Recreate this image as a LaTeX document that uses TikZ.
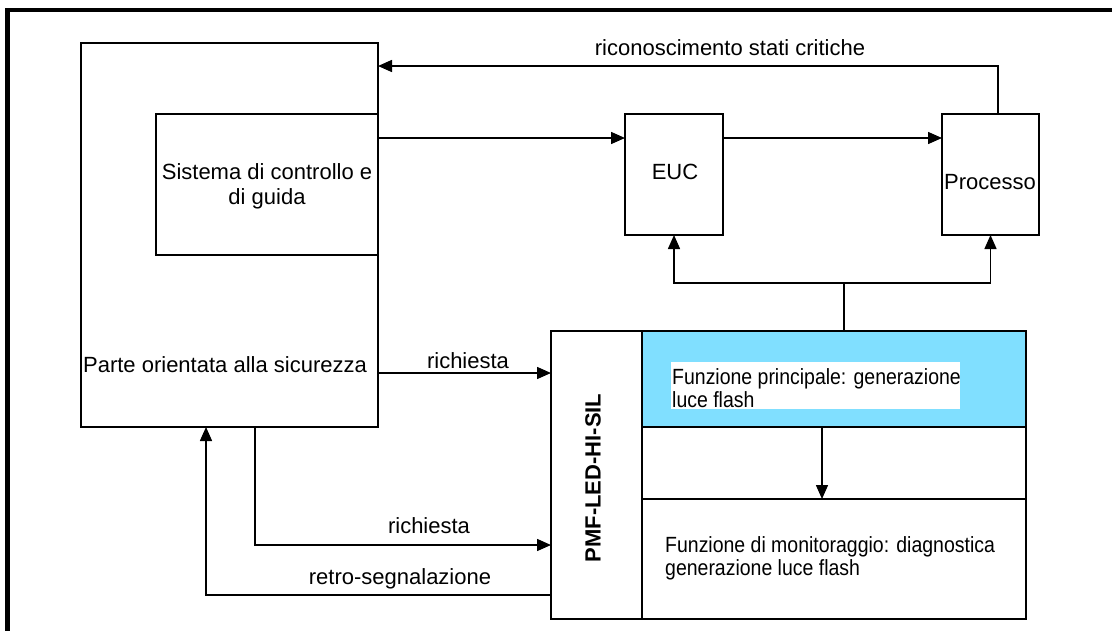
\documentclass[tikz,border=0pt]{standalone}
\usepackage{fontspec}
\setmainfont{Liberation Sans}
\newfontfamily\narrowsans{Liberation Sans}[FakeStretch=0.885]
\usetikzlibrary{arrows.meta}
\definecolor{funcblue}{RGB}{128,223,255}
\begin{document}
\begin{tikzpicture}[x=1pt,y=-1pt,
  box/.style={draw=black, line width=2pt, inner sep=0pt, outer sep=0pt, anchor=north west},
  lbl/.style={inner sep=0pt, anchor=base, font=\fontsize{22}{26}\selectfont},
  lbll/.style={inner sep=0pt, anchor=base west, font=\fontsize{22}{26}\narrowsans},
  conn/.style={line width=1.5pt, -{Triangle[length=14pt,width=12pt]}},
  plain/.style={line width=1.5pt},
]
\useasboundingbox (0,0) rectangle (1112,630);
\fill[white] (0,0) rectangle (1112,630);
% outer frame (only top and left visible)
\draw[line width=4.5pt] (7.5,640) -- (7.5,10) -- (1120,10);

% boxes
\node[box, minimum width=297pt, minimum height=384pt] (safety) at (81,43) {};
\node[box, minimum width=222pt, minimum height=141pt] (ctrl) at (156,114) {};
\node[box, minimum width=98pt, minimum height=121pt] (euc) at (625,114) {};
\node[box, minimum width=97pt, minimum height=121pt] (proc) at (942,114) {};
\node[box, minimum width=475pt, minimum height=288pt] (pmf) at (551,331) {};
\node[box, minimum width=91pt, minimum height=288pt] (pmflab) at (551,331) {};
\node[box, fill=funcblue, minimum width=384pt, minimum height=96pt] (main) at (642,331) {};
\node[box, minimum width=384pt, minimum height=72pt] (mid) at (642,427) {};
\node[box, minimum width=384pt, minimum height=120pt] (mon) at (642,499) {};
\node[fill=white, inner sep=0pt, anchor=north west, minimum width=289pt, minimum height=47pt] (mainbg) at (671,362) {};

% texts
\node[lbl] (tsafety) at (225,372) {Parte orientata alla sicurezza};
\node[lbl] (tctrl1) at (267,179) {Sistema di controllo e};
\node[lbl] (tctrl2) at (267,204) {di guida};
\node[lbl] (teuc) at (675,179) {EUC};
\node[lbl] (tproc) at (990,189) {Processo};
\node[inner sep=0pt, rotate=90, font=\fontsize{22}{26}\selectfont\bfseries] (tpmf) at (593,478) {PMF-LED-HI-SIL};
\node[lbll] (tmain1) at (672,384) {Funzione principale: generazione};
\node[lbll] (tmain2) at (672,407) {luce flash};
\node[lbll] (tmon1) at (665,552) {Funzione di monitoraggio: diagnostica};
\node[lbll] (tmon2) at (665,575) {generazione luce flash};
\node[lbl] (tcrit) at (730,55) {riconoscimento stati critiche};
\node[lbl] (treq1) at (468,368) {richiesta};
\node[lbl] (treq2) at (429,533) {richiesta};
\node[lbl] (tfb) at (400,584) {retro-segnalazione};

% connectors
\coordinate (crit) at (998,66);
\draw[conn] ([xshift=7.5pt]proc.north) -- (crit) -- (safety.east |- crit);
\coordinate (r1) at (500,138);
\draw[conn] (ctrl.east |- r1) -- (euc.west |- r1);
\draw[conn] (euc.east |- r1) -- (proc.west |- r1);
\coordinate (br) at (844,283);
\draw[plain] (pmf.north -| br) -- (br);
\draw[conn] (br) -| (euc.south);
\draw[conn] (br) -| (proc.south);
\coordinate (q1) at (460,373);
\draw[conn] (safety.east |- q1) -- (pmf.west |- q1);
\coordinate (q2) at (255,545);
\draw[conn] (safety.south -| q2) |- (pmf.west |- q2);
\coordinate (fb) at (206,595);
\draw[conn] (pmf.west |- fb) -| (safety.south -| fb);
\coordinate (dn) at (822,460);
\draw[conn] (main.south -| dn) -- (mon.north -| dn);
\end{tikzpicture}
\end{document}
